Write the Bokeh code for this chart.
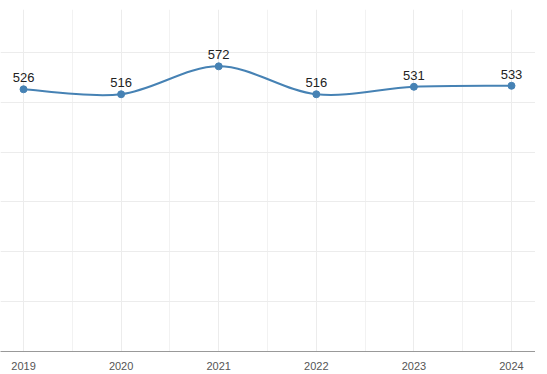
import numpy as np
from bokeh.plotting import figure
from bokeh.models import FixedTicker, ColumnDataSource, Range1d
from bokeh.core.properties import value
from bokeh.embed import file_html
from bokeh.resources import INLINE

years = [2019, 2020, 2021, 2022, 2023, 2024]
values = [526, 516, 572, 516, 531, 533]
labels = [str(v) for v in values]
y_grid_ticks = [0, 100, 200, 300, 400, 500, 600]

p = figure(frame_width=535, frame_height=342, output_backend="svg",
           toolbar_location=None, x_range=Range1d(2018.764, 2024.246),
           y_range=Range1d(0, 686), min_border_left=0, min_border_right=0,
           min_border_top=9, min_border_bottom=0, margin=0)
p.outline_line_color = None
p.background_fill_color = "white"
p.border_fill_color = "white"

p.yaxis.visible = False
p.ygrid.ticker = FixedTicker(ticks=y_grid_ticks)
p.ygrid.grid_line_color = "#ececec"

minor = [y + 0.5 for y in years[:-1]]
p.xaxis.ticker = FixedTicker(ticks=years, minor_ticks=minor)
p.xgrid.ticker = FixedTicker(ticks=years, minor_ticks=minor)
p.xgrid.grid_line_color = "#ececec"
p.xgrid.minor_grid_line_color = "#f2f2f2"
p.xaxis.axis_line_color = "#999999"
p.xaxis.axis_line_width = 1
p.xaxis.major_tick_line_color = None
p.xaxis.minor_tick_line_color = None
p.xaxis.major_label_standoff = 4
p.xaxis.major_label_text_font = "Liberation Sans"
p.xaxis.major_label_text_font_size = "11px"
p.xaxis.major_label_text_color = "#555555"

# smooth (Catmull-Rom style) curve through the data, drawn as bezier segments
xs = np.array(years, dtype=float)
ys = np.array(values, dtype=float)
n = len(xs)
px = np.concatenate([[xs[0]], xs, [xs[-1]]])
py = np.concatenate([[ys[0]], ys, [ys[-1]]])
seg = dict(x0=[], y0=[], x1=[], y1=[], cx0=[], cy0=[], cx1=[], cy1=[])
for i in range(n - 1):
    j = i + 1
    seg["x0"].append(px[j]); seg["y0"].append(py[j])
    seg["x1"].append(px[j + 1]); seg["y1"].append(py[j + 1])
    seg["cx0"].append(px[j] + (px[j + 1] - px[j - 1]) / 6)
    seg["cy0"].append(py[j] + (py[j + 1] - py[j - 1]) / 6)
    seg["cx1"].append(px[j + 1] - (px[j + 2] - px[j]) / 6)
    seg["cy1"].append(py[j + 1] - (py[j + 2] - py[j]) / 6)
p.bezier(source=ColumnDataSource(seg), x0="x0", y0="y0", x1="x1", y1="y1",
         cx0="cx0", cy0="cy0", cx1="cx1", cy1="cy1",
         line_color="#4682b4", line_width=2)

src = ColumnDataSource(dict(x=years, y=values, t=labels))
p.scatter("x", "y", source=src, size=7, fill_color="#4682b4", line_color="#4682b4")
p.text("x", "y", text="t", source=src, y_offset=-7, text_align="center",
       text_baseline="bottom", text_font=value("Liberation Sans"),
       text_font_size="13px", text_color="#222222")

open("out.html", "w").write(file_html(p, INLINE))
